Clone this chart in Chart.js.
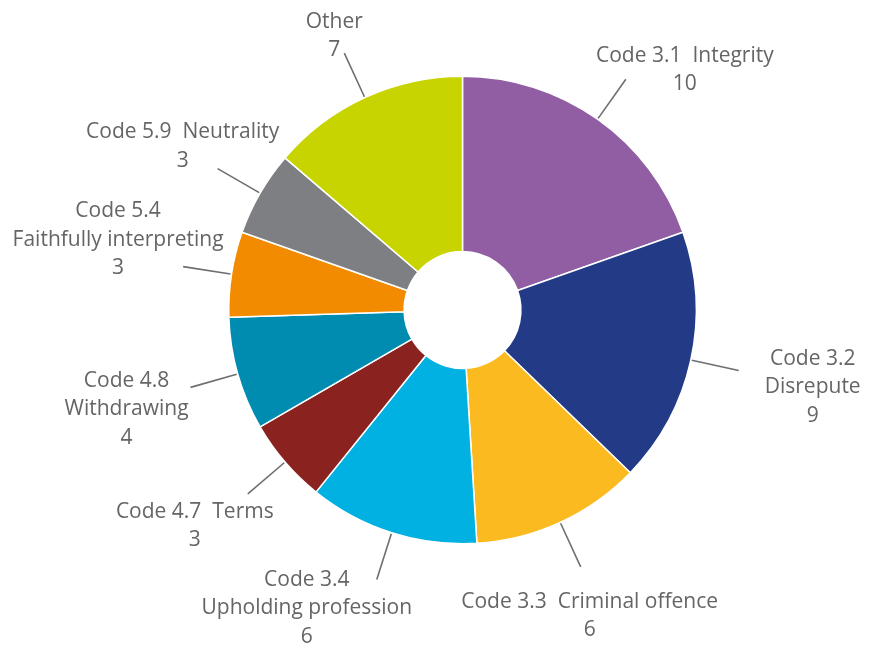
<!DOCTYPE html>
<html>
<head>
<meta charset="utf-8">
<script src="https://cdn.jsdelivr.net/npm/chart.js@4.4.1/dist/chart.umd.min.js"></script>
<style>
  body { margin: 0; background: #ffffff; }
  #wrap { width: 870px; height: 650px; }
</style>
</head>
<body>
<div id="wrap"><canvas id="codeChart" width="870" height="650"></canvas></div>
<script>
// Dữ liệu
const codes = ["Code 3.1  Integrity", "Code 3.2|Disrepute", "Code 3.3  Criminal offence",
  "Code 3.4|Upholding profession", "Code 4.7  Terms", "Code 4.8|Withdrawing",
  "Code 5.4|Faithfully interpreting", "Code 5.9  Neutrality", "Other"];
const counts = [10, 9, 6, 6, 3, 4, 3, 3, 7];
const sliceColors = ["#915DA3", "#233B87", "#FBBA20", "#00B1E1", "#8A2320",
  "#008CB1", "#F28B00", "#7E7F83", "#C8D400"];

// vị trí nhãn so với đầu đường dẫn (dx, dy)
const labelShift = [[59, -9], [74, 17], [9, 49], [-70, 29], [-53, 32],
  [-64, 22], [-65, -27], [-35, -22], [-10, -17]];

const ctx = document.getElementById("codeChart").getContext("2d");

// plugin vẽ nhãn + đường dẫn
const outsideLabels = {
  id: "outsideLabels",
  afterDatasetsDraw(chart) {
    const c = chart.ctx;
    const meta = chart.getDatasetMeta(0);
    c.save();
    c.font = "21px 'Open Sans'";
    c.fillStyle = "#646567";
    c.strokeStyle = "#6D6E71";
    c.lineWidth = 1.6;
    c.textAlign = "center";
    c.textBaseline = "middle";
    meta.data.forEach((arc, i) => {
      const p = arc.getProps(["x", "y", "startAngle", "endAngle", "outerRadius"], true);
      const mid = (p.startAngle + p.endAngle) / 2;
      const r1 = p.outerRadius + 1;
      const r2 = p.outerRadius + 49;
      const ex = p.x + Math.cos(mid) * r2;
      const ey = p.y + Math.sin(mid) * r2;
      c.beginPath();
      c.moveTo(p.x + Math.cos(mid) * r1, p.y + Math.sin(mid) * r1);
      c.lineTo(ex, ey);
      c.stroke();

      const lines = codes[i].split("|").concat([String(counts[i])]);
      const lh = 28.5;
      const cx = ex + labelShift[i][0];
      const cy = ey + labelShift[i][1] - (lines.length - 1) * lh / 2;
      lines.forEach((t, k) => c.fillText(t, cx, cy + k * lh));
    });
    c.restore();
  }
};

new Chart(ctx, {
  type: "doughnut",
  data: {
    labels: codes.map(s => s.replace("|", " ")),
    datasets: [{
      data: counts,
      backgroundColor: sliceColors,
      borderColor: "#ffffff",
      borderWidth: 1.5,
      hoverOffset: 0
    }]
  },
  options: {
    responsive: false,
    animation: false,
    cutout: "25%",
    layout: { padding: { left: 228, right: 173, top: 75, bottom: 105 } },
    plugins: {
      legend: { display: false },
      tooltip: { enabled: false }
    }
  },
  plugins: [outsideLabels]
});
</script>
</body>
</html>
